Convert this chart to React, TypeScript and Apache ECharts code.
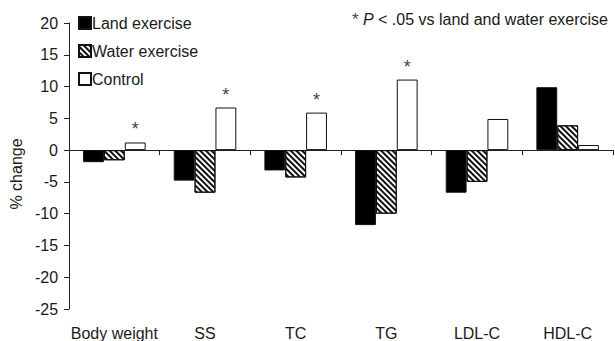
import React, { useEffect, useRef } from "react";
import * as echarts from "echarts";

const categories = ["Body weight", "SS", "TC", "TG", "LDL-C", "HDL-C"];
const landExercise = [-1.9, -4.8, -3.2, -11.8, -6.7, 9.9];
const waterExercise = [-1.6, -6.7, -4.3, -10.0, -5.0, 3.9];
const control = [1.2, 6.7, 5.9, 11.1, 4.9, 0.8];
const significant = [true, true, true, true, false, false];
const seriesNames = ["Land exercise", "Water exercise", "Control"];
const yMin = -25;
const yMax = 20;
const yInterval = 5;

const FONT = "'Liberation Sans', Arial, Helvetica, sans-serif";
const TEXT = "#1a1a1a";

export default function App() {
  const ref = useRef<HTMLDivElement>(null);
  useEffect(() => {
    if (!ref.current) return;
    const chart = echarts.init(ref.current, null, { renderer: "svg" });
    const border = { borderColor: "#111", borderWidth: 1 };
    chart.setOption({
      animation: false,
      backgroundColor: "#fff",
      textStyle: { fontFamily: FONT, color: TEXT },
      grid: { left: 63, right: 2, top: 23, bottom: 31, containLabel: false },
      title: {
        right: 2,
        top: 6,
        text: "{s|*} {i|P} < .05 vs land and water exercise",
        textStyle: {
          fontFamily: FONT,
          fontSize: 16,
          fontWeight: "normal",
          color: TEXT,
          rich: {
            s: { fontFamily: FONT, fontSize: 17, color: "#444" },
            i: { fontFamily: FONT, fontSize: 16, fontStyle: "italic", color: TEXT },
          },
        },
      },
      legend: {
        orient: "vertical",
        left: 73,
        top: 10,
        itemWidth: 12,
        itemHeight: 12,
        itemGap: 12,
        icon: "rect",
        data: seriesNames,
        textStyle: { fontFamily: FONT, fontSize: 16, color: TEXT, padding: [0, 0, 0, -4] },
      },
      xAxis: [
        {
          type: "category",
          data: categories,
          position: "bottom",
          axisLine: { onZero: true, lineStyle: { color: "#222", width: 1 } },
          axisTick: { show: true, length: 5, lineStyle: { color: "#222" } },
          axisLabel: { show: false },
          splitLine: { show: false },
        },
        {
          type: "category",
          data: categories,
          position: "bottom",
          axisLine: { show: false, onZero: false },
          axisTick: { show: false },
          axisLabel: { show: true, interval: 0, margin: 16, fontFamily: FONT, fontSize: 16, color: TEXT },
          splitLine: { show: false },
        },
      ],
      yAxis: {
        type: "value",
        min: yMin,
        max: yMax,
        interval: yInterval,
        name: "% change",
        nameLocation: "middle",
        nameGap: 40,
        nameTextStyle: { fontFamily: FONT, fontSize: 16, color: TEXT, padding: [0, 0, 0, -16] },
        axisLine: { show: true, lineStyle: { color: "#222", width: 1 } },
        axisTick: { show: true, length: 5, lineStyle: { color: "#222" } },
        axisLabel: { fontFamily: FONT, fontSize: 16, color: TEXT, margin: 11 },
        splitLine: { show: false },
      },
      series: [
        {
          name: seriesNames[0],
          type: "bar",
          data: landExercise,
          barGap: "0%",
          barCategoryGap: "31%",
          itemStyle: { color: "#000", ...border },
        },
        {
          name: seriesNames[1],
          type: "bar",
          data: waterExercise,
          itemStyle: {
            color: "#fff",
            ...border,
            decal: {
              symbol: "rect",
              symbolSize: 1,
              color: "#111",
              backgroundColor: "#fff",
              dashArrayX: [[1, 0]],
              dashArrayY: [1.5, 2],
              rotation: Math.PI / 4,
            },
          },
        },
        {
          name: seriesNames[2],
          type: "bar",
          data: control.map((v, i) => ({
            value: v,
            label: {
              show: significant[i],
              position: "top",
              distance: 4,
              formatter: "*",
              fontFamily: FONT,
              fontSize: 18,
              color: "#444",
            },
          })),
          itemStyle: { color: "#fff", ...border },
        },
      ],
    });
    return () => chart.dispose();
  }, []);
  return (
    <div
      ref={ref}
      style={{ position: "absolute", left: 0, top: 0, width: 615, height: 341 }}
    />
  );
}
